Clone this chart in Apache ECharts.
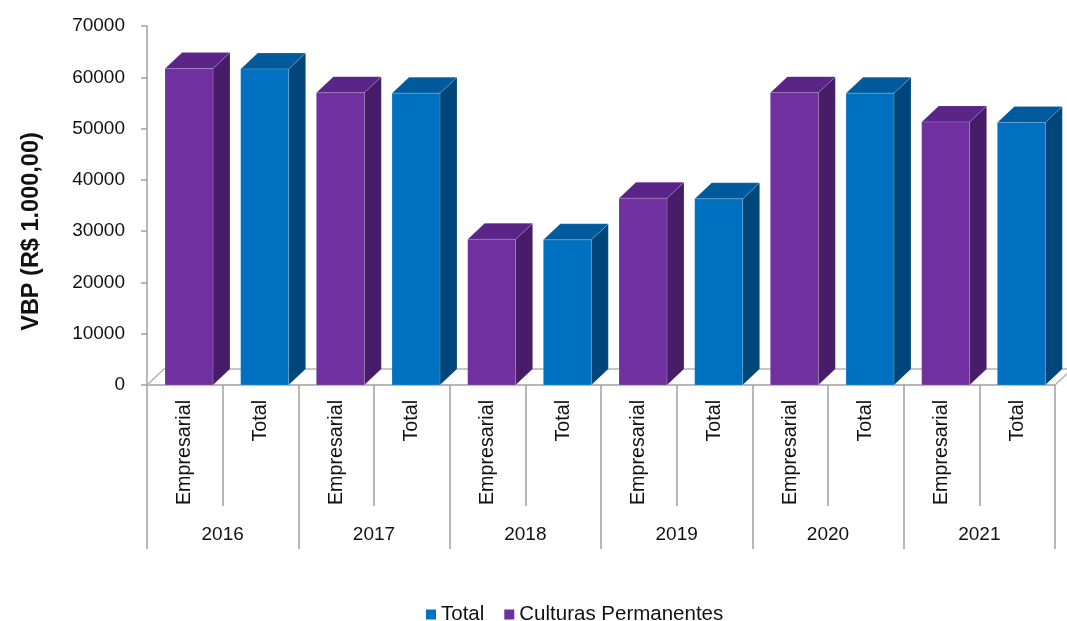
<!DOCTYPE html>
<html>
<head>
<meta charset="utf-8">
<style>
  html, body { margin: 0; padding: 0; background: #fff; }
  #chart { width: 1067px; height: 621px; }
</style>
<script src="https://cdn.jsdelivr.net/npm/echarts@6/dist/echarts.min.js"></script>
</head>
<body>
<div id="chart"></div>
<script>
// Category rows: each year holds an "Empresarial" and a "Total" column
const years = ['2016', '2017', '2018', '2019', '2020', '2021'];
const subCategories = ['Empresarial', 'Total'];
// VBP values in R$ 1.000,00
const culturasPermanentes = [61700, 57000, 28400, 36400, 57000, 51300]; // Empresarial columns
const totalValues = [61600, 56900, 28300, 36300, 56900, 51200];         // Total columns
const yTicks = { min: 0, max: 70000, interval: 10000 };

const categories = [];
years.forEach(() => subCategories.forEach(s => categories.push(s)));

const seriesData = (vals, offset) => vals.map((v, i) => [i * 2 + offset, v]);

// Extruded-column look
const DEPTH_X = 17, DEPTH_Y = 16;
const palette = {
  purple: { front: '#7030A0', side: '#471C68', top: '#5A2586' },
  blue:   { front: '#0070C0', side: '#00467B', top: '#005A9C' }
};

function makeBarRenderer(colors) {
  return function (params, api) {
    const idx = api.value(0);
    const val = api.value(1);
    const base = api.coord([idx, 0]);
    const topPt = api.coord([idx, val]);
    const slotW = api.size([1, 0])[0];
    const w = slotW * 0.634;
    const L = base[0] - slotW * 0.262;
    const R = L + w;
    const bottom = base[1];
    const top = topPt[1];
    const edge = { stroke: 'rgba(255,255,255,0.25)', lineWidth: 0.6 };
    return {
      type: 'group',
      children: [
        {
          type: 'polygon',
          shape: { points: [[R, top], [R + DEPTH_X, top - DEPTH_Y], [R + DEPTH_X, bottom - DEPTH_Y], [R, bottom]] },
          style: Object.assign({ fill: colors.side }, edge)
        },
        {
          type: 'polygon',
          shape: { points: [[L, top], [L + DEPTH_X, top - DEPTH_Y], [R + DEPTH_X, top - DEPTH_Y], [R, top]] },
          style: Object.assign({ fill: colors.top }, edge)
        },
        {
          type: 'rect',
          shape: { x: L, y: top, width: w, height: bottom - top },
          style: Object.assign({ fill: colors.front }, edge)
        }
      ]
    };
  };
}

// Floor outline behind the columns
function renderFloor(params, api) {
  const cs = params.coordSys;
  const yb = cs.y + cs.height;
  const xl = cs.x, xr = cs.x + cs.width;
  const line = { stroke: '#b3b3b3', lineWidth: 1.5, fill: null };
  return {
    type: 'group',
    children: [
      { type: 'polyline', shape: { points: [[xl, yb], [xl + DEPTH_X, yb - DEPTH_Y], [xr + DEPTH_X, yb - DEPTH_Y], [xr, yb]] }, style: line }
    ]
  };
}

const textColor = '#111';
const axisGray = '#a0a0a0';
const fontFamily = '"Liberation Sans", Arial, sans-serif';

const chart = echarts.init(document.getElementById('chart'));
chart.setOption({
  animation: false,
  textStyle: { fontFamily: fontFamily },
  legend: {
    left: 421,
    top: 599,
    itemWidth: 10,
    itemHeight: 10,
    itemGap: 20,
    icon: 'rect',
    textStyle: { fontSize: 20.5, color: textColor, fontFamily: fontFamily },
    data: ['Total', 'Culturas Permanentes']
  },
  grid: { left: 147, right: 12, top: 26, bottom: 236 },
  xAxis: [
    {
      type: 'category',
      data: categories,
      boundaryGap: true,
      axisLine: { show: true, lineStyle: { color: axisGray, width: 1.5 } },
      axisTick: { show: true, interval: 0, length: 121, lineStyle: { color: axisGray, width: 1.5 } },
      axisLabel: { interval: 0, rotate: 90, margin: 15, fontSize: 19.7, color: textColor, fontFamily: fontFamily },
      splitLine: { show: false }
    },
    {
      type: 'category',
      data: years,
      position: 'bottom',
      boundaryGap: true,
      axisLine: { show: false },
      axisTick: { show: true, interval: 0, length: 164, lineStyle: { color: axisGray, width: 1.5 } },
      axisLabel: { interval: 0, margin: 140, fontSize: 19, color: textColor, fontFamily: fontFamily },
      splitLine: { show: false }
    }
  ],
  yAxis: {
    type: 'value',
    min: yTicks.min,
    max: yTicks.max,
    interval: yTicks.interval,
    name: 'VBP (R$ 1.000,00)',
    nameLocation: 'middle',
    nameRotate: 90,
    nameGap: 103,
    nameTextStyle: { fontSize: 23.5, fontWeight: 'bold', color: textColor, fontFamily: fontFamily, padding: [0, 52, 0, 0] },
    axisLine: { show: true, lineStyle: { color: axisGray, width: 1.5 } },
    axisTick: { show: true, length: 6, lineStyle: { color: axisGray, width: 1.5 } },
    axisLabel: { fontSize: 19, margin: 22, color: textColor, fontFamily: fontFamily, formatter: v => String(v) },
    splitLine: { show: false }
  },
  series: [
    {
      name: 'Floor',
      type: 'custom',
      xAxisIndex: 0,
      renderItem: renderFloor,
      data: [[0, 0]],
      z: 1,
      silent: true
    },
    {
      name: 'Total',
      type: 'custom',
      xAxisIndex: 0,
      color: palette.blue.front,
      renderItem: makeBarRenderer(palette.blue),
      encode: { x: 0, y: 1 },
      data: seriesData(totalValues, 1),
      z: 3
    },
    {
      name: 'Culturas Permanentes',
      type: 'custom',
      xAxisIndex: 0,
      color: palette.purple.front,
      renderItem: makeBarRenderer(palette.purple),
      encode: { x: 0, y: 1 },
      data: seriesData(culturasPermanentes, 0),
      z: 3
    }
  ]
});
</script>
</body>
</html>
